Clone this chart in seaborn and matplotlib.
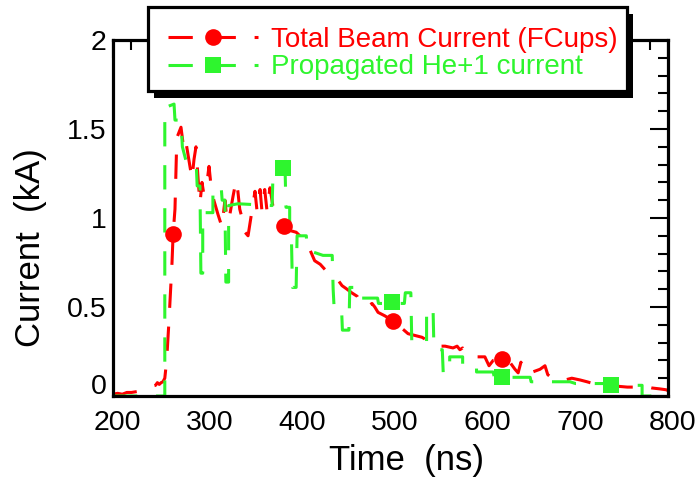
import numpy as np
import pandas as pd
import seaborn as sns
import matplotlib
matplotlib.use("Agg")
import matplotlib.pyplot as plt
from matplotlib.lines import Line2D
from matplotlib.patches import Rectangle
from matplotlib import patheffects as pe
from matplotlib.ticker import MultipleLocator
from matplotlib.transforms import ScaledTranslation

# ---------------- data ----------------
red_t = [200, 205, 210, 215, 220, 226, 232, 238, 242, 246,
         248, 250, 252, 254, 256, 258, 260.5, 263.8, 265, 267,
         268, 269, 273.5, 275.7, 277.8, 281, 283, 285.4, 287.6, 289.7,
         292, 294, 296.2, 298, 301.6, 303.8, 306, 309, 313.5, 317.8,
         321, 323, 325, 329.7, 333, 335, 337, 340.5, 342.7, 346,
         349, 353.5, 355.7, 359, 361, 364, 366.5, 369.7, 374, 378,
         385, 391, 398, 402, 407.5, 413, 418, 424, 431, 437,
         442, 447.6, 453, 458, 464, 467, 470, 474.6, 480, 483,
         486.5, 494, 503, 510, 514.6, 519, 526.5, 534, 540.5, 546,
         551, 559, 567.6, 572, 575, 578, 582.7, 586, 594.6, 602,
         606.5, 611, 620.5, 629, 634.6, 638, 641, 645.4, 651, 661.6,
         667, 670, 674.6, 680, 688.6, 696, 705, 712.4, 719, 726.5,
         737, 745, 756, 764, 775, 782.7, 791, 798, 800]
red_y = [0.01, 0.015, 0.01, 0.02, 0.02, 0.025, 0.035, 0.045, 0.055, 0.06,
         0.075, 0.065, 0.075, 0.08, 0.10, 0.20, 0.42, 0.75, 0.91, 1.05,
         1.25, 1.45, 1.51, 1.42, 1.46, 1.36, 1.30, 1.22, 1.33, 1.40,
         1.22, 1.08, 1.20, 1.14, 1.20, 1.29, 1.18, 1.10, 1.02, 0.95,
         1.10, 1.00, 0.98, 1.12, 1.21, 1.15, 1.05, 0.98, 0.92, 0.90,
         1.00, 1.15, 1.04, 1.16, 1.04, 1.16, 1.04, 1.17, 1.03, 1.00,
         0.955, 0.93, 0.92, 0.90, 0.88, 0.82, 0.76, 0.74, 0.70, 0.68,
         0.66, 0.62, 0.60, 0.58, 0.56, 0.53, 0.51, 0.50, 0.52, 0.50,
         0.47, 0.45, 0.42, 0.39, 0.37, 0.35, 0.34, 0.33, 0.31, 0.30,
         0.28, 0.28, 0.27, 0.28, 0.26, 0.27, 0.24, 0.22, 0.22, 0.22,
         0.17, 0.20, 0.21, 0.19, 0.15, 0.13, 0.19, 0.13, 0.13, 0.15,
         0.17, 0.12, 0.10, 0.10, 0.09, 0.10, 0.09, 0.08, 0.07, 0.065,
         0.07, 0.055, 0.05, 0.05, 0.055, 0.045, 0.04, 0.035, 0.03]

green_t = [200, 256, 256, 266, 267, 271, 272, 274, 275, 280,
           290, 291, 294, 295, 297, 297, 308, 308, 317, 318,
           321, 322, 325, 325, 335, 372, 373, 378, 386, 387,
           391, 391, 393, 394, 398, 399, 409, 410, 427, 437,
           438, 439, 447, 448, 455, 456, 465, 466, 486, 487,
           515, 516, 522, 523, 539, 539, 546, 547, 556, 557,
           564, 564, 578, 578, 593, 593, 611, 612, 628, 651,
           652, 694, 700, 730, 740, 748, 772, 772, 800]
green_y = [0, 0, 1.62, 1.64, 1.55, 1.55, 1.50, 1.50, 1.40, 1.30,
           1.30, 1.18, 1.18, 0.69, 0.69, 1.03, 1.03, 1.17, 1.17, 1.10,
           1.10, 0.64, 0.64, 1.07, 1.08, 1.07, 1.25, 1.28, 1.28, 1.06,
           1.06, 0.88, 0.86, 0.61, 0.61, 0.90, 0.90, 0.82, 0.79, 0.79,
           0.60, 0.50, 0.50, 0.37, 0.37, 0.61, 0.61, 0.55, 0.55, 0.52,
           0.52, 0.58, 0.58, 0.30, 0.30, 0.49, 0.49, 0.26, 0.26, 0.13,
           0.13, 0.22, 0.22, 0.17, 0.17, 0.135, 0.135, 0.11, 0.105, 0.105,
           0.08, 0.08, 0.07, 0.07, 0.065, 0.06, 0.06, 0.0, 0.0]

red_mark_t = [265, 385, 503, 620]
red_mark_y = [0.91, 0.955, 0.42, 0.21]
green_mark_t = [384, 502, 620, 738]
green_mark_y = [1.28, 0.53, 0.107, 0.064]

x_ticks = [200, 300, 400, 500, 600, 700, 800]
x_labels = ["200", "300", "400", "500", "600", "700", "800"]
y_ticks = [0, 0.5, 1, 1.5, 2]
y_labels = ["0", "0.5", "1", "1.5", "2"]

legend_labels = ["Total Beam Current (FCups)", "Propagated He+1 current"]
x_title = "Time  (ns)"
y_title = "Current  (kA)"

# ---------------- style ----------------
sns.set_theme(style="white")
plt.rcParams["font.family"] = ["Liberation Sans", "DejaVu Sans"]
plt.rcParams["lines.scale_dashes"] = False

RED = "#ff0000"
GREEN = "#2ef52e"
DASH = (0, (17.5, 13.5))
LW = 2.2

W, H = 698, 483
fig = plt.figure(figsize=(W / 100, H / 100), dpi=100)
ax = fig.add_axes([113 / W, 1 - 396 / H, 555 / W, 356 / H])

sns.lineplot(x=red_t, y=red_y, ax=ax, estimator=None, sort=False,
             color=RED, linewidth=LW)
ax.lines[-1].set_linestyle(DASH)
sns.lineplot(x=green_t, y=green_y, ax=ax, estimator=None, sort=False,
             color=GREEN, linewidth=LW)
ax.lines[-1].set_linestyle(DASH)

sns.scatterplot(x=red_mark_t, y=red_mark_y, ax=ax, marker="o", s=144,
                color=RED, linewidth=0, zorder=3)
sns.scatterplot(x=green_mark_t, y=green_mark_y, ax=ax, marker="s", s=144,
                color=GREEN, linewidth=0, zorder=4)

ax.set_xlim(200, 800)
ax.set_ylim(0, 2)
ax.set_xticks(x_ticks, x_labels)
ax.set_yticks(y_ticks, y_labels)
ax.xaxis.set_minor_locator(MultipleLocator(20))
ax.yaxis.set_minor_locator(MultipleLocator(0.1))
ax.tick_params(which="both", direction="in", top=True, right=True,
               width=1.5, color="black", labelcolor="black", labelsize=20.5)
ax.tick_params(which="major", length=13)
ax.tick_params(which="minor", length=7.2)
ax.tick_params(axis="x", pad=10)
ax.tick_params(axis="y", pad=4.5)
for sp in ax.spines.values():
    sp.set_linewidth(2.3)
    sp.set_color("black")

for lab in ax.get_xticklabels():
    lab.set_transform(lab.get_transform() + ScaledTranslation(4.5 / 100, 0, fig.dpi_scale_trans))
ylabs = ax.get_yticklabels()
ylabs[0].set_transform(ylabs[0].get_transform() + ScaledTranslation(0, 12 / 100, fig.dpi_scale_trans))

ax.set_xlabel(x_title, fontsize=25, color="black", va="top")
ax.xaxis.set_label_coords(0.528, -0.134)
ax.set_ylabel(y_title, fontsize=25, color="black", va="center")
ax.yaxis.set_label_coords(-0.1495, 0.4157)

# legend frame with solid shadow
frame = Rectangle((148 / W, 1 - 91 / H), 479 / W, 84 / H, transform=fig.transFigure,
                  facecolor="white", edgecolor="black", linewidth=2.3, zorder=2)
frame.set_path_effects([pe.SimplePatchShadow(offset=(4.5, -5), shadow_rgbFace="black", alpha=1.0),
                        pe.Normal()])
fig.add_artist(frame)

handles = [Line2D([], [], color=RED, lw=LW, ls=DASH, marker="o", ms=12, mew=0),
           Line2D([], [], color=GREEN, lw=LW, ls=DASH, marker="s", ms=12, mew=0)]
fig.legend(handles, legend_labels, loc="upper left",
           bbox_to_anchor=(168 / W, 1 - 27 / H), bbox_transform=fig.transFigure,
           frameon=False, borderpad=0, borderaxespad=0, fontsize=20,
           handlelength=3.25, handletextpad=0.45, labelspacing=0.05,
           labelcolor="linecolor")

fig.savefig("out.png", dpi=100)
